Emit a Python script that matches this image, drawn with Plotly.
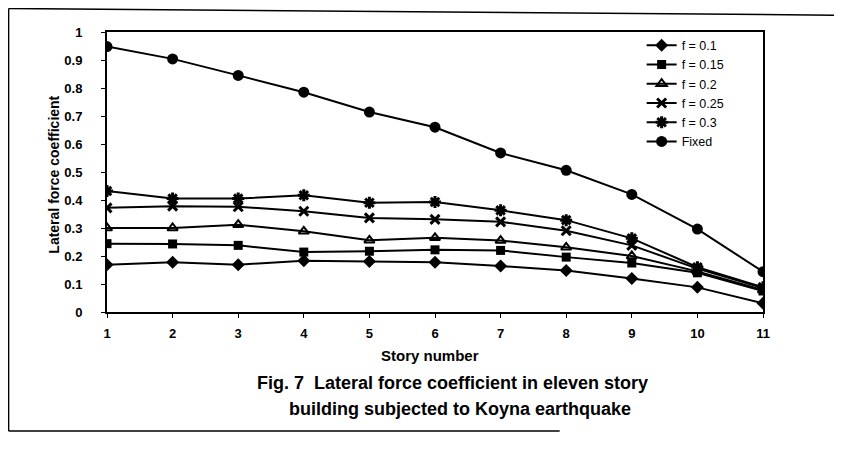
import plotly.graph_objects as go

stories = [1, 2, 3, 4, 5, 6, 7, 8, 9, 10, 11]
f_01 = [0.169, 0.178, 0.169, 0.183, 0.180, 0.178, 0.164, 0.148, 0.120, 0.088, 0.031]
f_015 = [0.244, 0.243, 0.238, 0.214, 0.217, 0.222, 0.220, 0.196, 0.175, 0.140, 0.075]
f_02 = [0.300, 0.300, 0.312, 0.288, 0.256, 0.265, 0.255, 0.231, 0.200, 0.145, 0.078]
f_025 = [0.372, 0.378, 0.376, 0.360, 0.336, 0.331, 0.322, 0.290, 0.238, 0.155, 0.086]
f_03 = [0.432, 0.405, 0.405, 0.417, 0.390, 0.393, 0.363, 0.328, 0.263, 0.160, 0.088]
fixed = [0.948, 0.904, 0.845, 0.785, 0.714, 0.660, 0.568, 0.506, 0.420, 0.296, 0.144]

series_names = ["f = 0.1", "f = 0.15", "f = 0.2", "f = 0.25", "f = 0.3", "Fixed"]
series_values = [f_01, f_015, f_02, f_025, f_03, fixed]
y_ticks = [0, 0.1, 0.2, 0.3, 0.4, 0.5, 0.6, 0.7, 0.8, 0.9, 1]
y_tick_text = ["0", "0.1", "0.2", "0.3", "0.4", "0.5", "0.6", "0.7", "0.8", "0.9", "1"]

markers = [
    dict(symbol="diamond", size=10, color="black"),
    dict(symbol="square", size=9, color="black"),
    dict(symbol="triangle-up-open", size=9, color="black", line=dict(width=2, color="black")),
    dict(symbol="x-thin-open", size=9, color="black", line=dict(width=3, color="black")),
    dict(symbol="asterisk-open", size=10, color="black", line=dict(width=3, color="black")),
    dict(symbol="circle", size=11, color="black"),
]

fig = go.Figure()
for name, vals, mk in zip(series_names, series_values, markers):
    fig.add_trace(go.Scatter(
        x=stories, y=vals, name=name, mode="lines+markers",
        line=dict(color="black", width=2), marker=mk,
    ))

FONT = "Liberation Sans, Arial, sans-serif"

# page body has an 8px margin, so the figure is sized to fit the window
fig.update_layout(
    width=834, height=441,
    margin=dict(l=99, r=79, t=24, b=137),
    paper_bgcolor="white", plot_bgcolor="white",
    font=dict(family=FONT, color="black"),
    showlegend=True,
    legend=dict(
        x=0.815, y=1.005, xanchor="left", yanchor="top",
        bgcolor="rgba(0,0,0,0)", borderwidth=0,
        font=dict(size=12.5, family=FONT, color="black"),
        tracegroupgap=0, itemwidth=30,
    ),
    xaxis=dict(
        range=[1, 11], tickmode="array", tickvals=stories,
        ticktext=[str(s) for s in stories],
        showgrid=False, zeroline=False,
        showline=True, linecolor="black", linewidth=2, mirror=True,
        ticks="outside", ticklen=4, tickcolor="black", tickwidth=1,
        ticklabelstandoff=4,
        tickfont=dict(size=13, family=FONT, color="black", weight="bold"),
    ),
    yaxis=dict(
        range=[0, 1], tickmode="array", tickvals=y_ticks, ticktext=y_tick_text,
        showgrid=False, zeroline=False,
        showline=True, linecolor="black", linewidth=2, mirror=True,
        ticks="outside", ticklen=4, tickcolor="black", tickwidth=1,
        ticklabelstandoff=16,
        tickfont=dict(size=13, family=FONT, color="black", weight="bold"),
    ),
)

fig.add_annotation(
    text="<b>Story number</b>", xref="paper", yref="paper",
    x=0.493, y=-0.155, showarrow=False, xanchor="center", yanchor="middle",
    font=dict(size=15, family=FONT, color="black"),
)
fig.add_annotation(
    text="<b>Lateral force coefficient</b>", xref="paper", yref="paper",
    x=-0.081, y=0.49, textangle=-90, showarrow=False,
    xanchor="center", yanchor="middle",
    font=dict(size=14, family=FONT, color="black"),
)
fig.add_annotation(
    text="<b>Fig. 7  Lateral force coefficient in eleven story</b>",
    xref="paper", yref="paper", x=0.226, y=-0.254, showarrow=False,
    xanchor="left", yanchor="middle",
    font=dict(size=18, family=FONT, color="black"),
)
fig.add_annotation(
    text="<b>building subjected to Koyna earthquake</b>",
    xref="paper", yref="paper", x=0.274, y=-0.347, showarrow=False,
    xanchor="left", yanchor="middle",
    font=dict(size=18, family=FONT, color="black"),
)

# outer figure frame
frame = dict(color="black", width=1.5)
fig.add_shape(type="line", xref="paper", yref="paper", x0=-0.15, y0=1.084, x1=1.12, y1=1.06, line=frame)
fig.add_shape(type="line", xref="paper", yref="paper", x0=-0.15, y0=1.084, x1=-0.15, y1=-0.425, line=frame)
fig.add_shape(type="line", xref="paper", yref="paper", x0=-0.15, y0=-0.425, x1=0.69, y1=-0.425, line=frame)

fig.write_html("out.html")
